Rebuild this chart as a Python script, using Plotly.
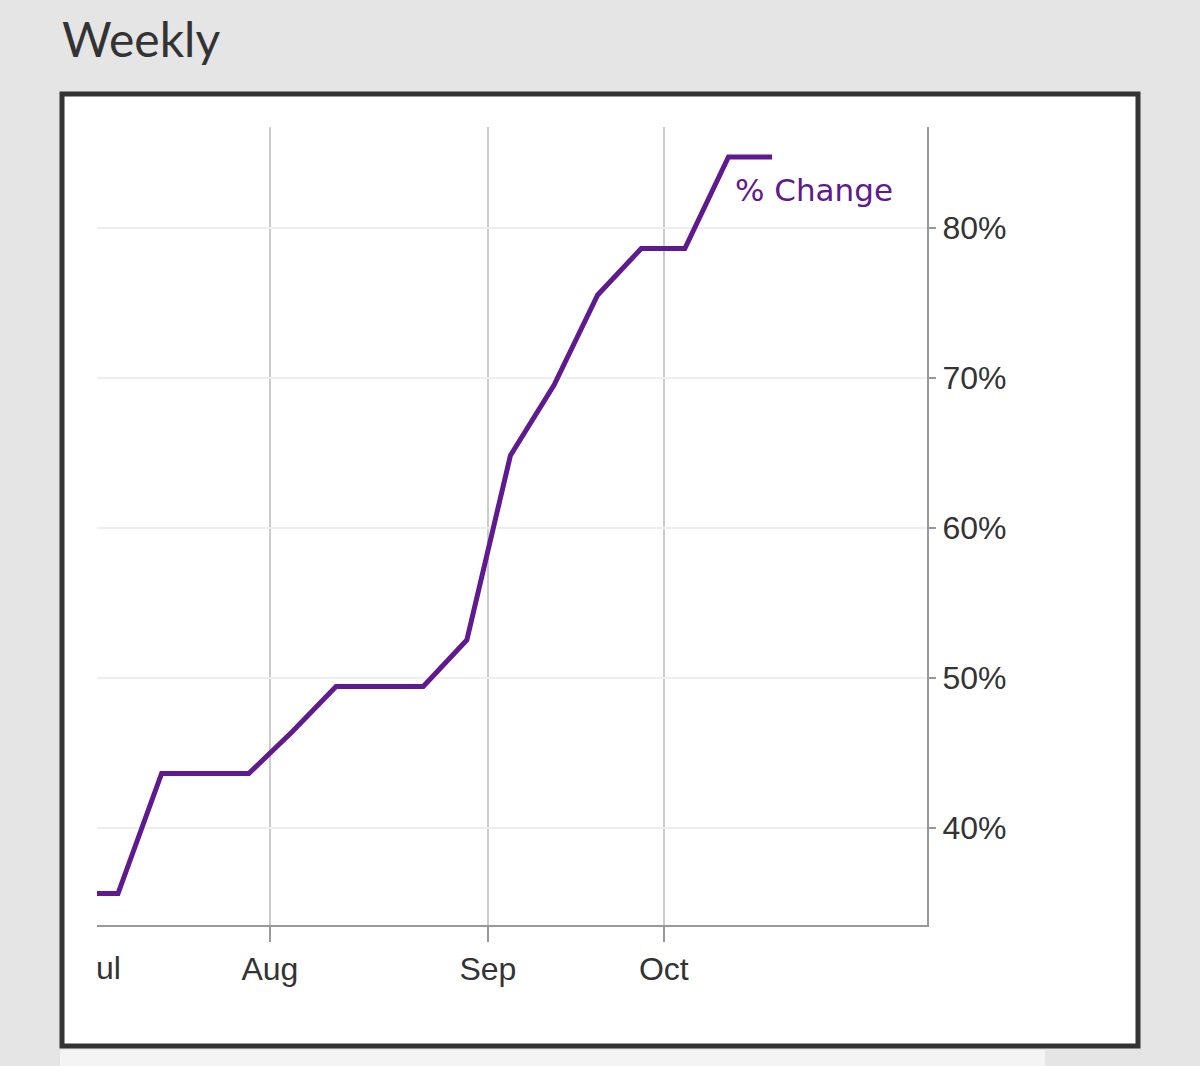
import plotly.graph_objects as go

# ---- data ----
weeks = ["2020-07-01", "2020-07-08", "2020-07-15", "2020-07-22", "2020-07-29",
         "2020-08-05", "2020-08-12", "2020-08-19", "2020-08-26", "2020-09-02",
         "2020-09-09", "2020-09-16", "2020-09-23", "2020-09-30", "2020-10-07",
         "2020-10-14", "2020-10-21"]
pct_change = [35.6, 35.6, 43.6, 43.6, 43.6, 46.4, 49.4, 49.4, 49.4, 52.5,
              64.8, 69.5, 75.5, 78.6, 78.6, 84.7, 84.7]
month_tick_dates = ["2020-08-01 09:00", "2020-09-05 09:00", "2020-10-03 15:00"]
month_tick_labels = ["Aug", "Sep", "Oct"]
y_ticks = [40, 50, 60, 70, 80]
y_tick_labels = ["40%", "50%", "60%", "70%", "80%"]
series_name = "% Change"
title_text = "Weekly"

W, H = 1200, 1066
L, R, T, B = 97, 927, 127, 925
pw, ph = R - L, B - T

def px(xp):
    return (xp - L) / pw

def py(yp):
    return (B - yp) / ph

fig = go.Figure()
fig.add_trace(go.Scatter(
    x=weeks, y=pct_change, mode="lines", name=series_name,
    line=dict(color="#5e1a8e", width=5), showlegend=False, hoverinfo="skip"))

tick_font = dict(family="Liberation Sans, Arial, sans-serif", size=32, color="#333333")

fig.update_layout(
    width=W, height=H,
    margin=dict(l=L, r=W - R, t=T, b=H - B, pad=0),
    paper_bgcolor="#e5e5e5",
    plot_bgcolor="#ffffff",
    title=dict(text=title_text, x=62 / W, xanchor="left", y=1 - 40 / H, yanchor="middle",
               font=dict(family="Lato, sans-serif", size=48, color="#333333")),
    xaxis=dict(
        type="date",
        range=["2020-07-04 15:00", "2020-11-14 21:00"],
        tickvals=month_tick_dates, ticktext=month_tick_labels,
        showgrid=True, gridcolor="#cccccc", gridwidth=2,
        showline=True, linecolor="#999999", linewidth=2,
        ticks="outside", ticklen=15, tickwidth=2, tickcolor="#999999",
        tickfont=tick_font, zeroline=False,
    ),
    yaxis=dict(
        side="right",
        range=[33.5, 86.7],
        tickvals=y_ticks, ticktext=y_tick_labels,
        showgrid=True, gridcolor="#eeeeee", gridwidth=2,
        showline=True, linecolor="#999999", linewidth=2,
        ticks="outside", ticklen=7, tickwidth=2, tickcolor="#999999",
        tickfont=tick_font, zeroline=False,
    ),
    shapes=[
        dict(type="rect", xref="paper", yref="paper", layer="below",
             x0=px(60), x1=px(1045), y0=py(1050), y1=py(1075),
             fillcolor="#f4f4f4", line=dict(width=0)),
        dict(type="rect", xref="paper", yref="paper", layer="below",
             x0=px(62), x1=px(1138), y0=py(1046), y1=py(94),
             fillcolor="#ffffff", line=dict(color="#333333", width=5)),
    ],
    annotations=[
        dict(text=series_name, xref="paper", yref="paper", x=px(895), y=py(190),
             xanchor="right", yanchor="middle", showarrow=False,
             font=dict(family="DejaVu Sans, sans-serif", size=31, color="#5e1a8e")),
        dict(text="ul", xref="paper", yref="paper", x=px(94), y=py(968),
             xanchor="left", yanchor="middle", showarrow=False, font=tick_font),
    ],
)

fig.write_html("out.html", config={"displayModeBar": False},
               post_script="document.body.style.margin='0';")
